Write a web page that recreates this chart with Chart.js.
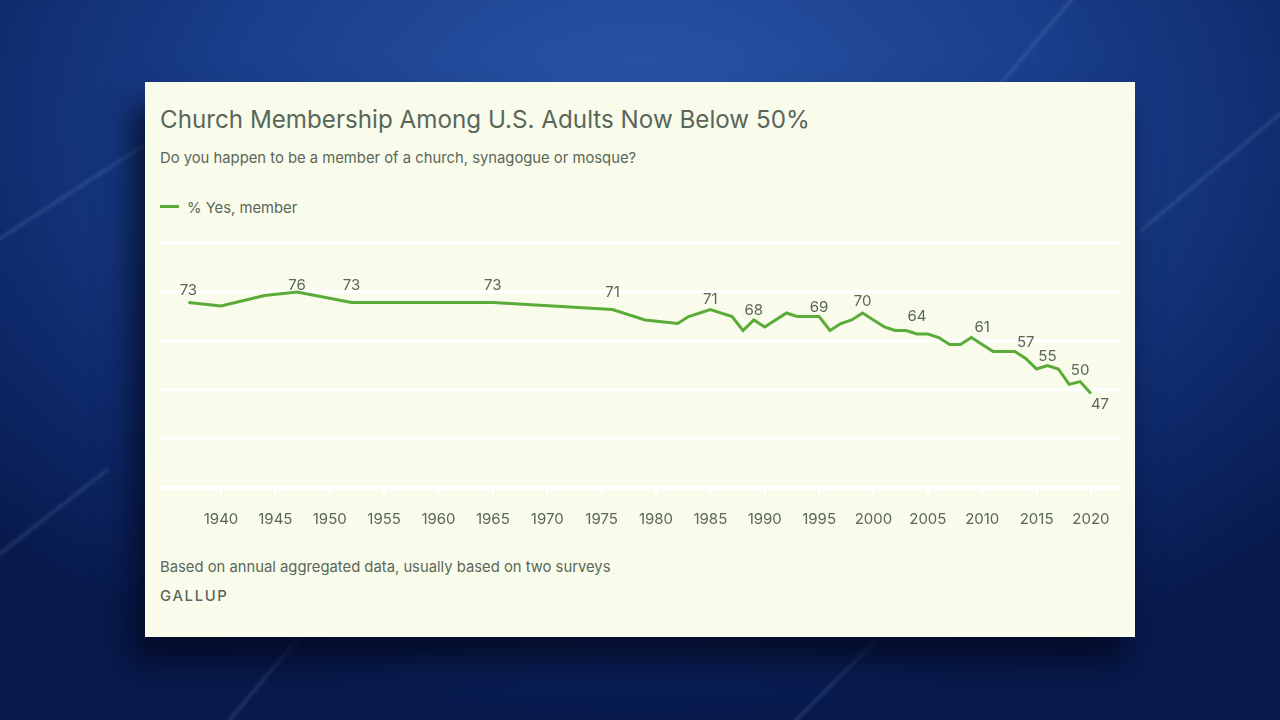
<!DOCTYPE html>
<html>
<head>
  <title>Church Membership Among U.S. Adults Now Below 50%</title>
  <script src="https://cdn.jsdelivr.net/npm/chart.js@4.4.0/dist/chart.umd.min.js"></script>
  <style>
    html, body { margin: 0; padding: 0; }
    body {
      width: 1280px; height: 720px; overflow: hidden; position: relative;
      background: radial-gradient(ellipse 900px 600px at 640px 120px, #2a56a8 0%, #1a3f8c 45%, #0d2766 80%, #081a4c 100%);
      font-family: Inter, "Noto Sans", sans-serif;
    }
    .streak {
      position: absolute; height: 3px; background: rgba(170, 200, 255, 0.16);
      transform-origin: left center; filter: blur(1.5px);
    }
    #panel {
      position: absolute; left: 145px; top: 82px; width: 990px; height: 555px;
      background: #f9fcea;
      box-shadow: -12px 24px 30px rgba(2, 8, 30, 0.8);
    }
    .txt { position: absolute; color: #5b665a; white-space: nowrap; }
    #title { left: 15px; top: 23px; font-size: 24.2px; }
    #subtitle { left: 15px; top: 67px; font-size: 14.8px; }
    #legend { left: 15px; top: 117px; font-size: 14.8px; }
    #legend span {
      display: inline-block; width: 19px; height: 3px; background: #5aab3a;
      vertical-align: middle; margin-right: 8px; position: relative; top: -2px;
    }
    #note { left: 15px; top: 476px; font-size: 14.8px; }
    #brand { left: 15px; top: 505px; font-size: 14.8px; letter-spacing: 1.7px; font-weight: 500; }
    #wrap { position: absolute; left: 5px; top: 143px; width: 980px; height: 318px; }
  </style>
</head>
<body>
  <div class="streak" style="left:-20px; top:250px; width:220px; transform:rotate(-33deg);"></div>
  <div class="streak" style="left:990px; top:95px; width:200px; transform:rotate(-50deg);"></div>
  <div class="streak" style="left:1140px; top:230px; width:200px; transform:rotate(-40deg);"></div>
  <div class="streak" style="left:220px; top:730px; width:160px; transform:rotate(-50deg);"></div>
  <div class="streak" style="left:780px; top:735px; width:180px; transform:rotate(-45deg);"></div>
  <div class="streak" style="left:-10px; top:560px; width:150px; transform:rotate(-38deg);"></div>

  <div id="panel">
    <div class="txt" id="title">Church Membership Among U.S. Adults Now Below 50%</div>
    <div class="txt" id="subtitle">Do you happen to be a member of a church, synagogue or mosque?</div>
    <div class="txt" id="legend"><span></span>% Yes, member</div>
    <div id="wrap"><canvas id="lineChart"></canvas></div>
    <div class="txt" id="note">Based on annual aggregated data, usually based on two surveys</div>
    <div class="txt" id="brand">GALLUP</div>
  </div>

  <script>
    // survey years and % who say they are members
    const years = [1937, 1940, 1944, 1947, 1952, 1965, 1976, 1979, 1982, 1983, 1985, 1987, 1988, 1989,
                   1990, 1992, 1993, 1995, 1996, 1997, 1998, 1999, 2001, 2002, 2003, 2004, 2005, 2006,
                   2007, 2008, 2009, 2010, 2011, 2013, 2014, 2015, 2016, 2017, 2018, 2019, 2020];
    const members = [73, 72, 75, 76, 73, 73, 71, 68, 67, 69, 71, 69, 65, 68,
                     66, 70, 69, 69, 65, 67, 68, 70, 66, 65, 65, 64, 64, 63,
                     61, 61, 63, 61, 59, 59, 57, 54, 55, 54, 49.6, 50.4, 47];
    // years that carry a value label
    const labelYears = [1937, 1947, 1952, 1965, 1976, 1985, 1989, 1995, 1999, 2004, 2010, 2014, 2016, 2019, 2020];
    const xTicks = [1940, 1945, 1950, 1955, 1960, 1965, 1970, 1975, 1980, 1985, 1990, 1995, 2000, 2005, 2010, 2015, 2020];

    const points = years.map((y, i) => ({ x: y, y: members[i] }));

    // label offsets above the point (negative = below), in px
    const labelShift = { 1937: 12, 1947: 7, 1952: 17, 1965: 17, 1976: 17, 1985: 10, 1989: 10, 1995: 9,
                         1999: 12, 2004: 18, 2010: 17, 2014: 16, 2016: 9, 2019: 11, 2020: -11 };

    const valueLabels = {
      id: 'valueLabels',
      afterDatasetsDraw(chart) {
        const ctx = chart.ctx;
        const xs = chart.scales.x, ys = chart.scales.y;
        ctx.save();
        ctx.font = '15px Inter, "Noto Sans", sans-serif';
        ctx.fillStyle = '#5b665a';
        ctx.textAlign = 'center';
        ctx.textBaseline = 'middle';
        labelYears.forEach(yr => {
          const i = years.indexOf(yr);
          const px = xs.getPixelForValue(yr) + (yr === 2020 ? 9 : 0);
          const py = ys.getPixelForValue(members[i]) - labelShift[yr];
          ctx.fillText(String(Math.round(members[i])), px, py);
        });
        ctx.restore();
      }
    };

    const ctx = document.getElementById('lineChart').getContext('2d');
    new Chart(ctx, {
      type: 'line',
      data: {
        datasets: [{
          label: '% Yes, member',
          data: points,
          borderColor: '#5aab3a',
          borderWidth: 3,
          pointRadius: 0,
          tension: 0,
          fill: false
        }]
      },
      options: {
        responsive: true,
        maintainAspectRatio: false,
        animation: false,
        layout: { padding: { left: 10, right: 10, top: 18, bottom: 15 } },
        plugins: { legend: { display: false }, tooltip: { enabled: false } },
        scales: {
          x: {
            type: 'linear',
            min: 1934.39,
            max: 2022.67,
            afterBuildTicks: scale => { scale.ticks = xTicks.map(v => ({ value: v })); },
            afterFit: scale => { scale.height = 40; },
            border: { display: false },
            grid: { drawOnChartArea: false, drawTicks: true, tickLength: 8, color: '#ffffff', lineWidth: 2 },
            ticks: {
              padding: 14,
              color: '#5b665a',
              font: { family: 'Inter, "Noto Sans", sans-serif', size: 15 },
              maxRotation: 0,
              autoSkip: false,
              callback: v => String(v)
            }
          },
          y: {
            min: 20,
            max: 90,
            afterFit: scale => { scale.width = 0; },
            border: { display: false },
            grid: { color: '#ffffff', lineWidth: 3.5, drawTicks: false },
            ticks: { display: false, stepSize: 14 }
          }
        }
      },
      plugins: [valueLabels]
    });
  </script>
</body>
</html>
